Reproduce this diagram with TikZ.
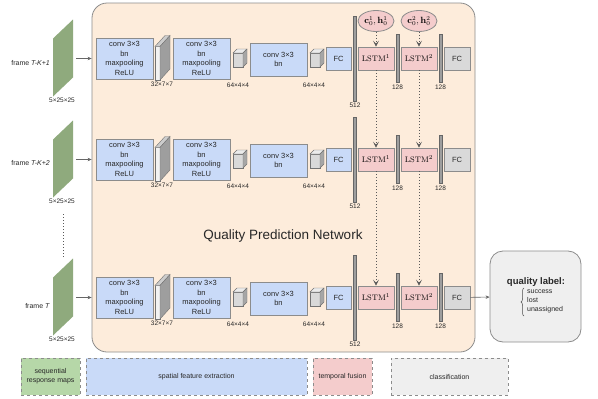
\documentclass[tikz,border=0pt]{standalone}
\usepackage[no-math]{fontspec}
\setmainfont{Liberation Sans}
\usetikzlibrary{arrows.meta,decorations.pathreplacing,shapes.geometric}
\definecolor{panelc}{RGB}{253,236,219}
\definecolor{bluec}{RGB}{201,218,248}
\definecolor{pinkc}{RGB}{244,204,204}
\definecolor{grayc}{RGB}{217,217,217}
\definecolor{greenc}{RGB}{143,170,125}
\definecolor{lgreen}{RGB}{182,215,168}
\definecolor{lgray}{RGB}{239,239,239}
\definecolor{edgec}{RGB}{140,140,140}
\definecolor{txt}{RGB}{40,40,40}
\tikzset{
  box/.style={draw=edgec, line width=0.8pt, inner sep=0pt, align=center, text=txt,
    font=\fontsize{7.5}{9.8}\selectfont},
  conv/.style={box, fill=bluec},
  lstmbox/.style={box, fill=pinkc, minimum width=36pt, minimum height=23pt, text=black, font=\fontsize{8.5}{9}\selectfont},
  fcgray/.style={box, fill=grayc, minimum width=26pt, minimum height=23pt},
  fcblue/.style={box, fill=bluec, minimum width=25pt, minimum height=23pt},
  dimlab/.style={font=\fontsize{6.5}{7}\selectfont, inner sep=0pt, text=txt},
  framelab/.style={font=\fontsize{7}{8}\selectfont, inner sep=0pt, text=txt},
  vbar/.style={draw=black!60, fill=black!38, line width=0.5pt, minimum width=3.5pt, inner sep=0pt},
  statell/.style={ellipse, draw=edgec, fill=pinkc, line width=0.8pt, minimum width=36pt, minimum height=21pt,
    inner sep=0pt, text=black, font=\fontsize{9}{10}\selectfont},
  legendbox/.style={draw=edgec, dashed, line width=0.8pt, align=center, text=txt,
    font=\fontsize{7}{9}\selectfont, inner sep=0pt, minimum height=37pt},
  dotarrow/.style={draw=black!65, dotted, line width=1pt,
    -{Stealth[length=6pt, width=6pt, inset=3pt, line width=0.6pt]}},
  graw/.style={draw=black!60, line width=0.6pt, -{Stealth[length=4pt,width=3.5pt]}},
  cube/.pic={
    \filldraw[draw=black!55, line width=0.4pt, fill=grayc] (0,-5.5) rectangle (10,8.5);
    \filldraw[draw=black!55, line width=0.4pt, fill=black!8] (0,-5.5) -- (4,-9.5) -- (14,-9.5) -- (10,-5.5) -- cycle;
    \filldraw[draw=black!55, line width=0.4pt, fill=black!35] (10,-5.5) -- (14,-9.5) -- (14,4.5) -- (10,8.5) -- cycle;
  },
  slab/.pic={
    \filldraw[draw=black!55, line width=0.4pt, fill=black!5] (0,-12) rectangle (5,21.5);
    \filldraw[draw=black!55, line width=0.4pt, fill=black!20] (0,-12) -- (10,-23) -- (15,-23) -- (5,-12) -- cycle;
    \filldraw[draw=black!55, line width=0.4pt, fill=black!38] (5,-12) -- (15,-23) -- (15,10.5) -- (5,21.5) -- cycle;
  }
}
\begin{document}
\begin{tikzpicture}[x=1pt,y=-1pt]
\useasboundingbox (0,0) rectangle (598,399);
% panel
\node[draw=edgec, fill=panelc, line width=0.8pt, rounded corners=15pt,
  minimum width=383pt, minimum height=349pt, inner sep=0pt] (panel) at (283.5,177.5) {};
\node[font=\fontsize{13.5}{15}\selectfont, text=txt, inner sep=0pt] (title) at (283,236) {Quality Prediction Network};

\foreach \r/\yc/\ly/\ft in {1/58.5/63/{frame \textit{T-K+1}}, 2/159.5/163/{frame \textit{T-K+2}}, 3/297.5/306/{frame \textit{T}}}{
  \fill[greenc] (53,\yc-20) -- (73,\yc-39) -- (73,\yc+19) -- (53,\yc+38) -- cycle;
  \node[framelab, anchor=east] (fl\r) at (50,\ly) {\ft};
  \node[dimlab] (fd\r) at (62,\yc+41.5) {5×25×25};
  \coordinate (fo\r) at (76,\yc);
  \draw[graw] (fo\r) -- (panel.west |- fo\r);
  \node[conv, minimum width=57pt, minimum height=41pt] (ca\r) at (124.5,\yc) {conv 3×3\\bn\\maxpooling\\ReLU};
  \pic at (155,\yc) {slab};
  \node[dimlab] (sa\r) at (162,\yc+25.5) {32×7×7};
  \node[conv, minimum width=57pt, minimum height=41pt] (cb\r) at (201.5,\yc) {conv 3×3\\bn\\maxpooling\\ReLU};
  \pic at (233,\yc) {cube};
  \node[dimlab] (sb\r) at (238,\yc+26.5) {64×4×4};
  \node[conv, minimum width=57pt, minimum height=33pt] (cc\r) at (278.5,\yc+1) {conv 3×3\\bn};
  \pic at (310,\yc) {cube};
  \node[dimlab] (sc\r) at (314,\yc+26.5) {64×4×4};
  \node[fcblue] (fb\r) at (338.5,\yc) {FC};
  \node[vbar, minimum height=85pt] (ba\r) at (354.5,\yc) {};
  \node[dimlab] (la\r) at (355,\yc+47) {512};
  \node[lstmbox] (lo\r) at (376,\yc) {$\mathrm{LSTM}^1$};
  \node[vbar, minimum height=48pt] (bb\r) at (397.5,\yc-0.5) {};
  \node[dimlab] (lb\r) at (397.5,\yc+29) {128};
  \node[lstmbox] (lt\r) at (419,\yc) {$\mathrm{LSTM}^2$};
  \node[vbar, minimum height=48pt] (bc\r) at (440.5,\yc-0.5) {};
  \node[dimlab] (lc\r) at (440.5,\yc+29) {128};
  \node[fcgray] (fg\r) at (457,\yc) {FC};
}
% dots between frames
\draw[black!65, dotted, line width=1pt] (63,214) -- (63,259);
% initial states
\node[statell] (e1) at (376,21) {$\mathbf{c}_0^1,\mathbf{h}_0^1$};
\node[statell] (e2) at (419,21) {$\mathbf{c}_0^2,\mathbf{h}_0^2$};
\draw[dotarrow] (e1) -- (lo1);
\draw[dotarrow] (lo1) -- (lo2);
\draw[dotarrow] (lo2) -- (lo3);
\draw[dotarrow] (e2) -- (lt1);
\draw[dotarrow] (lt1) -- (lt2);
\draw[dotarrow] (lt2) -- (lt3);
% output
\node[draw=edgec, fill=lgray, line width=0.8pt, rounded corners=13pt, minimum width=91pt, minimum height=91pt, inner sep=0pt] (q) at (535.5,296.5) {};
\draw[graw] (fg3) -- (q);
\node[font=\bfseries\fontsize{9.5}{11}\selectfont, text=txt, inner sep=0pt] (qt) at (536,282) {quality label:};
\node[anchor=north west, align=left, font=\fontsize{7}{9}\selectfont, text=txt, inner sep=0pt] (ql) at (527,289.5) {success\\lost\\unassigned};
\draw[black!70, line width=0.5pt, decorate, decoration={brace, amplitude=3pt}] (524,316) -- (524,288);
% legend
\node[legendbox, fill=lgreen, minimum width=59pt] (lg1) at (50.5,376.5) {sequential\\response maps};
\node[legendbox, fill=bluec, minimum width=221pt] (lg2) at (196.5,376.5) {spatial feature extraction};
\node[legendbox, fill=pinkc, minimum width=59pt] (lg3) at (342.5,376.5) {temporal fusion};
\node[legendbox, fill=lgray, minimum width=117pt] (lg4) at (449.5,376.5) {classification};
\end{tikzpicture}
\end{document}
